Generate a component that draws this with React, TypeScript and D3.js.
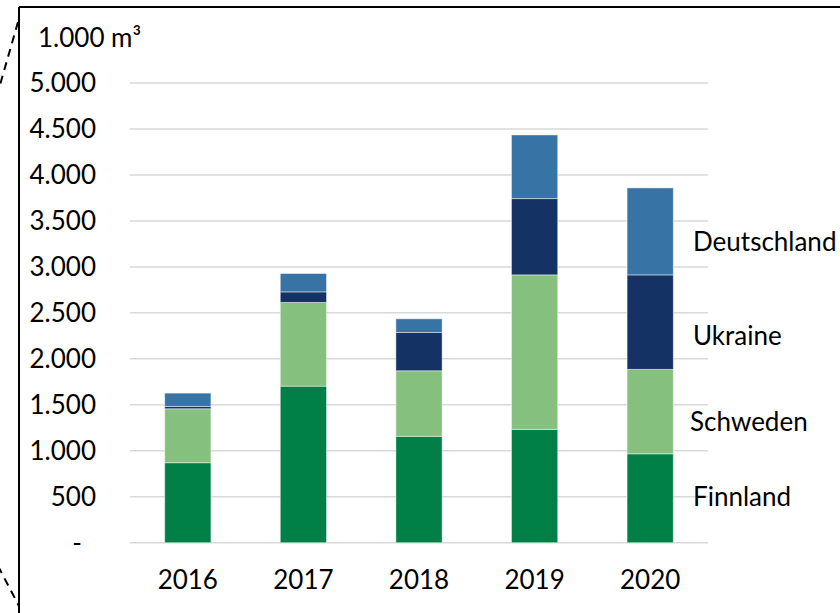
import React, { useEffect, useRef } from "react";
import * as d3 from "d3";

const years = ["2016", "2017", "2018", "2019", "2020"];
const countries = ["Finnland", "Schweden", "Ukraine", "Deutschland"];
const finnland = [870, 1703, 1157, 1233, 967];
const schweden = [587, 910, 713, 1680, 918];
const ukraine = [25, 115, 417, 830, 1028];
const deutschland = [145, 200, 148, 692, 946];
const yTicks = [0, 500, 1000, 1500, 2000, 2500, 3000, 3500, 4000, 4500, 5000];
const colors = ["#008046", "#85c07e", "#143264", "#3873a5"];
const unitLabel = "1.000 m³";

const W = 840;
const H = 613;
const FONT = "Lato, 'Open Sans', sans-serif";
const FS = 26;

export default function App() {
  const ref = useRef<SVGSVGElement>(null);

  useEffect(() => {
    const svg = d3.select(ref.current);
    svg.selectAll("*").remove();

    const rows = years.map((y, i) => ({
      year: y,
      Finnland: finnland[i],
      Schweden: schweden[i],
      Ukraine: ukraine[i],
      Deutschland: deutschland[i],
    }));

    const x = d3.scaleBand().domain(years).range([130, 708]).paddingInner(0.6).paddingOuter(0.3);
    const y = d3.scaleLinear().domain([0, 5000]).range([542.7, 83]);

    // frame + dashed callout lines
    svg.append("line").attr("x1", 19).attr("x2", W).attr("y1", 7).attr("y2", 7)
      .attr("stroke", "#000").attr("stroke-width", 2);
    svg.append("line").attr("x1", 19).attr("x2", 19).attr("y1", 7).attr("y2", H)
      .attr("stroke", "#000").attr("stroke-width", 2);
    svg.append("line").attr("x1", 18).attr("y1", 22).attr("x2", -2).attr("y2", 92)
      .attr("stroke", "#000").attr("stroke-width", 2).attr("stroke-dasharray", "8 6");
    svg.append("line").attr("x1", -2).attr("y1", 566).attr("x2", 19).attr("y2", 606)
      .attr("stroke", "#000").attr("stroke-width", 2).attr("stroke-dasharray", "8 6");

    // gridlines
    svg.append("g").selectAll("line").data(yTicks).join("line")
      .attr("x1", 130).attr("x2", 708)
      .attr("y1", d => y(d)).attr("y2", d => y(d))
      .attr("stroke", "#d9d9d9").attr("stroke-width", 1.5);

    // y tick labels
    const fmt = d3.formatLocale({ decimal: ",", thousands: ".", grouping: [3], currency: ["", "€"] }).format(",");
    svg.append("g").selectAll("text").data(yTicks).join("text")
      .attr("x", d => (d === 0 ? 82 : 96))
      .attr("y", d => y(d))
      .attr("dy", "0.35em")
      .attr("text-anchor", "end")
      .attr("font-family", FONT).attr("font-size", FS).attr("fill", "#000")
      .text(d => (d === 0 ? "-" : fmt(d)));

    svg.append("text").attr("x", 38).attr("y", 47)
      .attr("font-family", FONT).attr("font-size", FS).attr("fill", "#000")
      .text(unitLabel);

    // stacked bars
    const series = d3.stack<any>().keys(countries)(rows);
    svg.append("g").selectAll("g").data(series).join("g")
      .attr("fill", (_, i) => colors[i])
      .selectAll("rect").data(d => d).join("rect")
      .attr("x", d => x(d.data.year)!)
      .attr("width", x.bandwidth())
      .attr("y", d => y(d[1]))
      .attr("height", d => y(d[0]) - y(d[1]))
      .attr("stroke", "rgba(255,255,255,0.45)").attr("stroke-width", 1);

    // x labels
    svg.append("g").selectAll("text").data(years).join("text")
      .attr("x", d => x(d)! + x.bandwidth() / 2)
      .attr("y", 580)
      .attr("dy", "0.35em")
      .attr("text-anchor", "middle")
      .attr("font-family", FONT).attr("font-size", FS).attr("fill", "#000")
      .text(d => d);

    // series labels next to the last bar
    const labelY = [497, 422, 336, 242];
    svg.append("g").selectAll("text").data(countries).join("text")
      .attr("x", (_, i) => (i === 1 ? 690 : 693))
      .attr("y", (_, i) => labelY[i])
      .attr("dy", "0.35em")
      .attr("font-family", FONT).attr("font-size", FS).attr("fill", "#000")
      .text(d => d);
  }, []);

  return (
    <svg ref={ref} width={W} height={H}
      style={{ position: "absolute", left: 0, top: 0, background: "#fff" }} />
  );
}
